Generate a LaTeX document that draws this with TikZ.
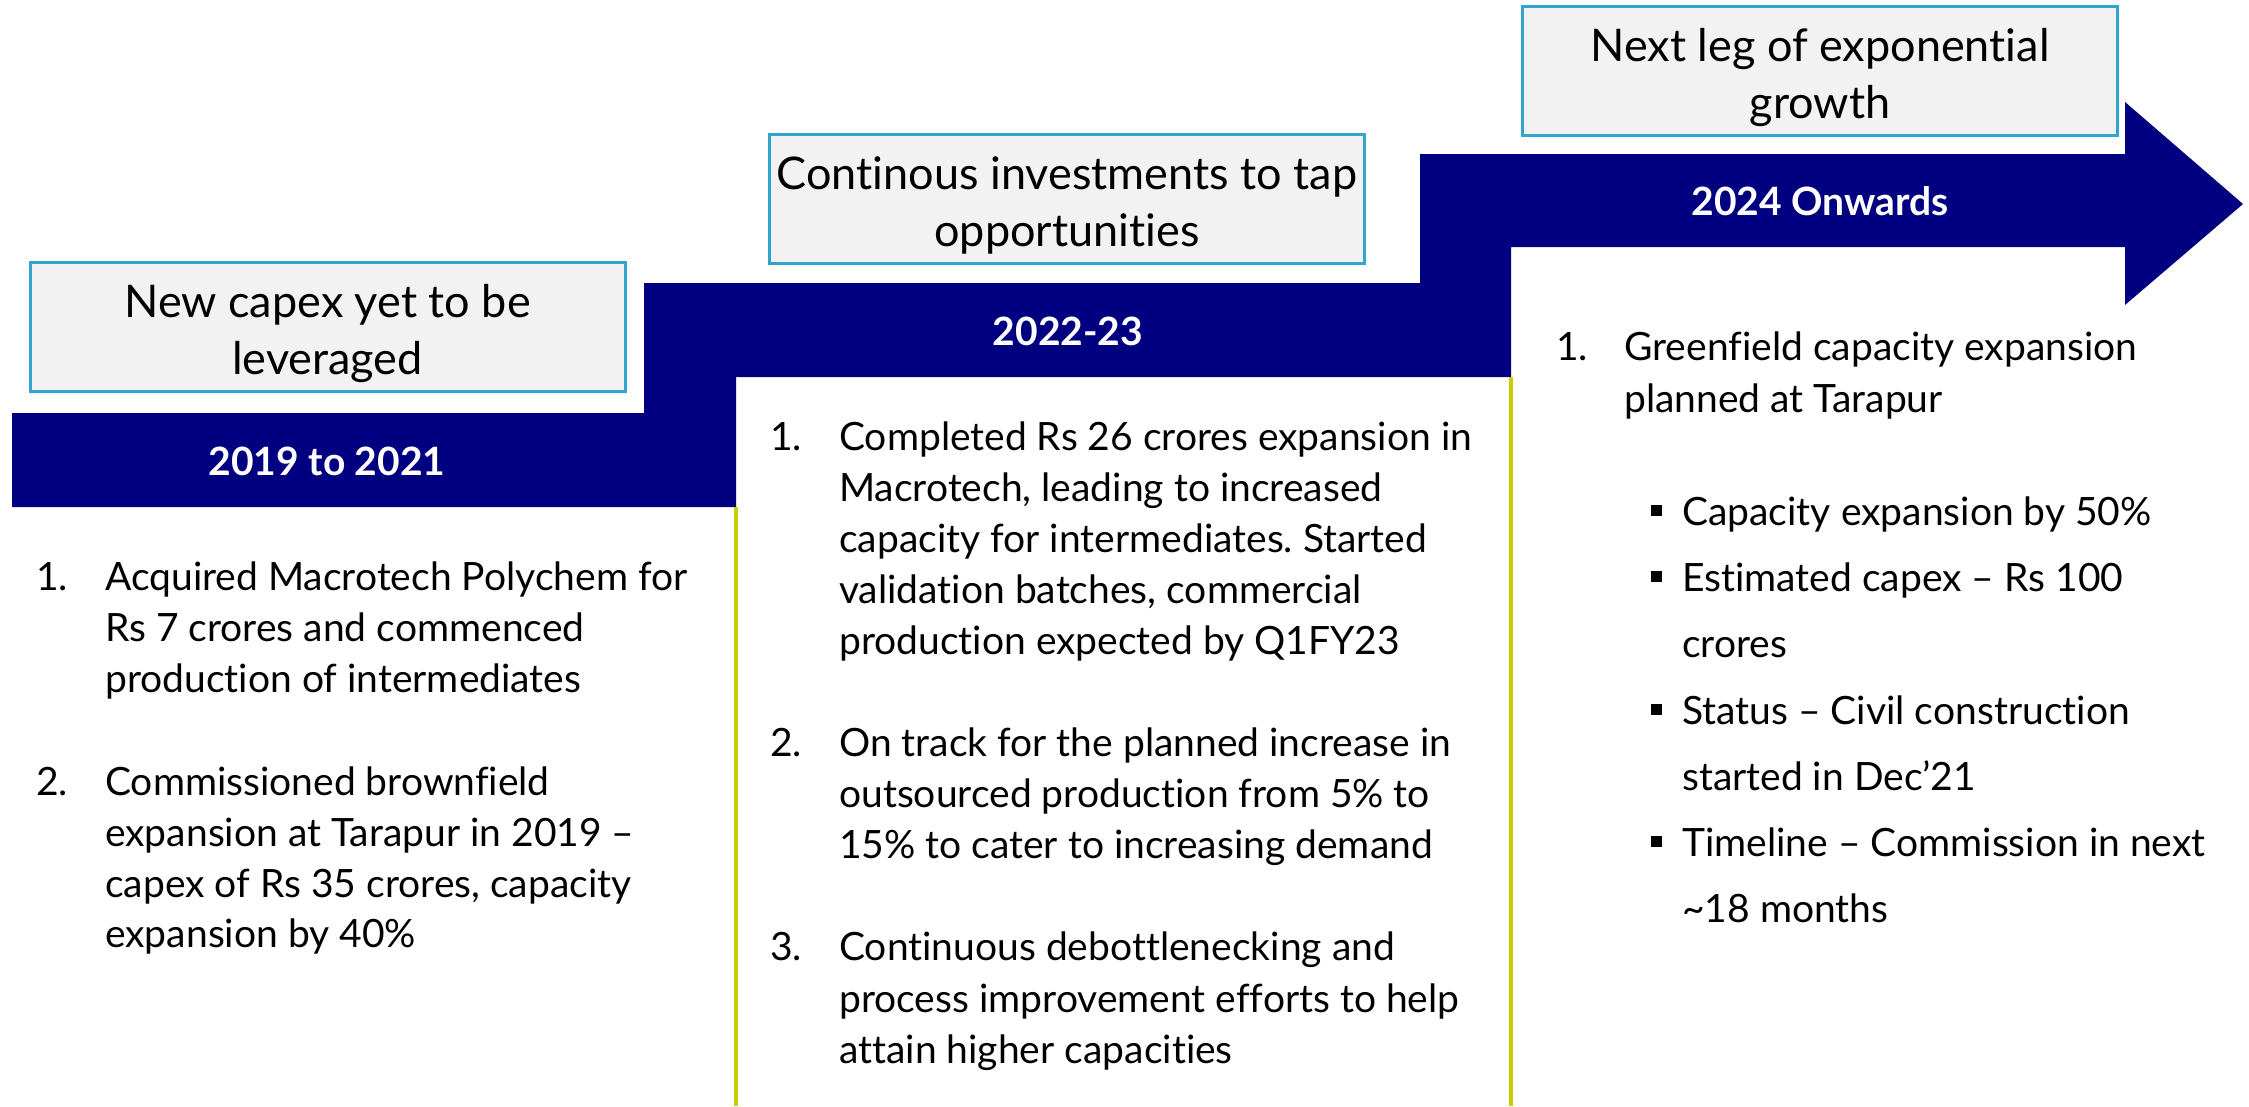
\documentclass[tikz,border=0pt]{standalone}
\usepackage{fontspec}
\setmainfont{Lato}[Ligatures={TeX,NoCommon}]
\frenchspacing
\definecolor{navy}{RGB}{0,0,128}
\definecolor{boxfill}{RGB}{242,242,242}
\definecolor{boxline}{RGB}{49,165,206}
\definecolor{yel}{RGB}{204,204,0}
\tikzset{
  body/.style={anchor=base west, inner sep=0pt, font=\fontsize{39}{48}\selectfont},
  titlebox/.style={draw=boxline, line width=3pt, fill=boxfill, minimum width=595pt,
    minimum height=129pt, inner sep=0pt},
  titletext/.style={align=center, inner sep=0pt, font=\fontsize{45}{57}\selectfont},
  bandlabel/.style={text=white, inner sep=0pt, font=\bfseries\fontsize{39}{39}\selectfont},
  yline/.style={draw=yel, line width=4pt},
  sq/.style={fill=black, inner sep=0pt, minimum size=11pt}
}
\begin{document}
\begin{tikzpicture}[x=1pt,y=-1pt]
\useasboundingbox (0,0) rectangle (2249,1106);
% stepped arrow
\fill[navy] (12,413) -- (644,413) -- (644,283) -- (1420,283) -- (1420,154) -- (2125,154)
  -- (2125,102) -- (2243,204) -- (2125,305) -- (2125,247) -- (1511,247) -- (1511,377)
  -- (736,377) -- (736,507) -- (12,507) -- cycle;
\node[bandlabel] (b1) at (327,461) {2019 to 2021};
\node[bandlabel] (b2) at (1068,331) {2022-23};
\node[bandlabel] (b3) at (1820,201) {2024 Onwards};
% title boxes
\node[titlebox] (t1) at (327.5,327) {};
\node[titletext] (t1t) at ([yshift=-7pt]t1.center) {New capex yet to be\\leveraged};
\node[titlebox] (t2) at (1067,199) {};
\node[titletext] (t2t) at ([yshift=-6pt]t2.center) {Continous investments to tap\\opportunities};
\node[titlebox] (t3) at (1820,70.5) {};
\node[titletext] (t3t) at ([yshift=-7pt]t3.center) {Next leg of exponential\\growth};
% yellow separators
\coordinate (y1a) at (736,507); \coordinate (y1b) at (736,1106);
\coordinate (y2a) at (1511,377); \coordinate (y2b) at (1511,1106);
\draw[yline] (y1a) -- (y1b);
\draw[yline] (y2a) -- (y2b);
% column 1
\node[body] (n11) at (36,590) {1.};
\foreach \t/\y [count=\i] in {Acquired Macrotech Polychem for/590, Rs 7 crores and commenced/641, production of intermediates/692}
  \node[body] (c1a\i) at (105,\y) {\t};
\node[body] (n12) at (36,795) {2.};
\foreach \t/\y [count=\i] in {Commissioned brownfield/795, expansion at Tarapur in 2019 –/846, {capex of Rs 35 crores, capacity}/897, expansion by 40\%/947}
  \node[body] (c1b\i) at (105,\y) {\t};
% column 2
\node[body] (n21) at (770,450) {1.};
\foreach \t/\y [count=\i] in {Completed Rs 26 crores expansion in/450, {Macrotech, leading to increased}/501, capacity for intermediates. Started/552, {validation batches, commercial}/603, production expected by Q1FY23/654}
  \node[body] (c2a\i) at (839,\y) {\t};
\node[body] (n22) at (770,756) {2.};
\foreach \t/\y [count=\i] in {On track for the planned increase in/756, outsourced production from 5\% to/807, 15\% to cater to increasing demand/858}
  \node[body] (c2b\i) at (839,\y) {\t};
\node[body] (n23) at (770,960) {3.};
\foreach \t/\y [count=\i] in {Continuous debottlenecking and/960, process improvement efforts to help/1012, attain higher capacities/1063}
  \node[body] (c2c\i) at (839,\y) {\t};
% column 3
\node[body] (n31) at (1556,360) {1.};
\foreach \t/\y [count=\i] in {Greenfield capacity expansion/360, planned at Tarapur/412}
  \node[body] (c3a\i) at (1624,\y) {\t};
\foreach \y [count=\i] in {525,591,724,856}
  \node[sq] (sq\i) at (1656,\y-15) {};
\foreach \t/\y [count=\i] in {Capacity expansion by 50\%/525, Estimated capex – Rs 100/591, crores/657, Status – Civil construction/724, started in Dec’21/790, Timeline – Commission in next/856, \textasciitilde18 months/922}
  \node[body] (c3b\i) at (1682,\y) {\t};
\end{tikzpicture}
\end{document}
